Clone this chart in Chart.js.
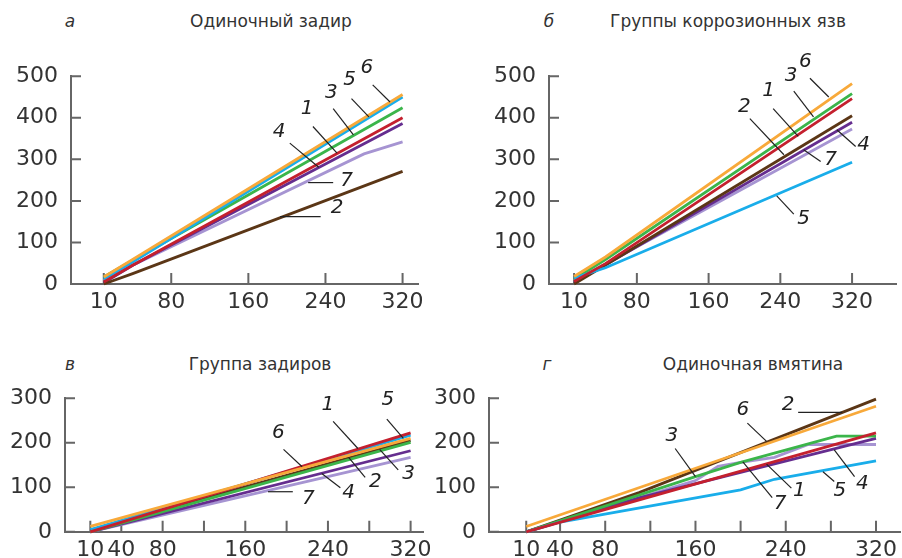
<!DOCTYPE html>
<html>
<head>
<meta charset="utf-8">
<script src="https://cdn.jsdelivr.net/npm/chart.js@4.4.1/dist/chart.umd.min.js"></script>
<style>
    body { margin: 0; background: #fff; width: 902px; height: 558px; position: relative; overflow: hidden;
           font-family: "DejaVu Sans", sans-serif; color: #333; }
    canvas { position: absolute; }
    .t { position: absolute; font-size: 17px; white-space: nowrap; transform: translate(-50%, -50%); }
    .l { font-style: italic; }
</style>
</head>
<body>
<div class="t l" style="left:70px;top:21px">а</div>
<div class="t" style="left:271px;top:21px">Одиночный задир</div>
<div class="t l" style="left:549px;top:21px">б</div>
<div class="t" style="left:728px;top:21px">Группы коррозионных язв</div>
<div class="t l" style="left:70px;top:364px">в</div>
<div class="t" style="left:260px;top:364px">Группа задиров</div>
<div class="t l" style="left:547px;top:364px">г</div>
<div class="t" style="left:753px;top:364px">Одиночная вмятина</div>

<script>
// цвета кривых 1..7
const colors = ['#c4202e', '#5b3616', '#3bb54a', '#652d8f', '#19adea', '#f8a93a', '#a694d2']
const axisColor = '#666'

// а — Одиночный задир
const xA = [10, 40, 280, 320]
const a1 = [5, 45, null, 400]
const a2 = [0, 25, null, 271]
const a3 = [17, 57, null, 424]
const a4 = [3, 45, null, 386]
const a5 = [12, 53, null, 450]
const a6 = [17, 59, null, 456]
const a7 = [8, 45, 313, 342]

// б — Группы коррозионных язв
const xB = [10, 45, 320]
const b1 = [6, 49, 446]
const b2 = [0, null, 405]
const b3 = [12, 59, 458]
const b4 = [3, 46, 389]
const b5 = [14, 39, 293]
const b6 = [18, 65, 482]
const b7 = [8, 48, 373]

// в — Группа задиров
const xC = [10, 320]
const c1 = [0, 222]
const c2 = [3, 205]
const c3 = [0, 201]
const c4 = [0, 182]
const c5 = [5, 217]
const c6 = [12, 210]
const c7 = [0, 167]

// г — Одиночная вмятина
const xD = [10, 40, 110, 160, 180, 200, 230, 260, 285, 320]
const d1 = [0, null, null, null, null, null, null, null, null, 222]
const d2 = [0, null, 88, null, null, null, null, null, null, 298]
const d3 = [0, null, null, 124, null, 156, null, null, 215, 215]
const d4 = [0, null, 76, null, null, null, null, null, null, 210]
const d5 = [0, 22, null, null, null, 94, 118, null, null, 159]
const d6 = [12, null, null, null, null, null, null, null, null, 282]
const d7 = [0, null, null, 115, 147, 156, 167, 196, null, 196]

const ticksAB = [10, 80, 160, 240, 320]
const ticksCD = [10, 40, 80, 120, 160, 200, 240, 280, 320]
const labelsCD = [10, 40, 80, 160, 240, 320]

// номера кривых: текст, позиция подписи и выноска (в единицах осей)
const notesA = [
    ['6', 283, 521, 289, 479, 307, 438],
    ['5', 265, 491, 267, 446, 285, 402],
    ['3', 246, 460, 248, 422, 269, 359],
    ['1', 221, 422, 227, 379, 252, 315],
    ['4', 192, 367, 203, 339, 233, 281],
    ['7', 262, 248, 248, 244, 222, 244],
    ['2', 252, 184, 235, 162, 193, 162]
]
const notesB = [
    ['6', 268, 535, 273, 495, 294, 450],
    ['3', 252, 500, 255, 464, 277, 402],
    ['1', 227, 466, 232, 422, 260, 355],
    ['2', 200, 426, 206, 398, 244, 311],
    ['4', 333, 335, 324, 331, 303, 371],
    ['7', 296, 299, 285, 295, 266, 323],
    ['5', 266, 156, 255, 168, 236, 212]
]
const notesC = [
    ['1', 240, 286, 245, 248, 269, 187],
    ['5', 298, 296, 297, 253, 313, 210],
    ['6', 192, 222, 197, 185, 215, 146],
    ['2', 286, 113, 276, 122, 260, 167],
    ['3', 318, 131, 308, 139, 290, 185],
    ['4', 260, 88, 252, 99, 234, 131],
    ['7', 221, 74, 206, 90, 182, 90]
]
const notesD = [
    ['2', 242, 286, 251, 268, 290, 268],
    ['6', 202, 275, 206, 244, 223, 203],
    ['3', 139, 215, 142, 187, 160, 124],
    ['1', 252, 92, 245, 98, 223, 152],
    ['7', 235, 64, 228, 77, 202, 157],
    ['5', 288, 92, 283, 113, 273, 135],
    ['4', 308, 107, 301, 124, 283, 184]
]

const marks = {
    id: 'marks',
    beforeDatasetsDraw(chart) {
        const {ctx, chartArea, scales: {x, y}} = chart
        ctx.save()
        ctx.strokeStyle = axisColor
        ctx.lineWidth = 2
        ctx.beginPath()
        x.ticks.forEach(t => {
            const px = x.getPixelForValue(t.value)
            ctx.moveTo(px, chartArea.bottom)
            ctx.lineTo(px, chartArea.bottom - 11)
        })
        y.ticks.forEach(t => {
            const py = y.getPixelForValue(t.value)
            ctx.moveTo(chartArea.left, py)
            ctx.lineTo(chartArea.left + 10, py)
        })
        ctx.stroke()
        ctx.restore()
    },
    afterDatasetsDraw(chart, args, opts) {
        const {ctx, scales: {x, y}} = chart
        ctx.save()
        ctx.strokeStyle = '#222'
        ctx.fillStyle = '#222'
        ctx.lineWidth = 1.2
        ctx.font = 'italic 20px "DejaVu Sans"'
        ctx.textAlign = 'center'
        ctx.textBaseline = 'middle'
        opts.notes.forEach(n => {
            ctx.beginPath()
            ctx.moveTo(x.getPixelForValue(n[3]), y.getPixelForValue(n[4]))
            ctx.lineTo(x.getPixelForValue(n[5]), y.getPixelForValue(n[6]))
            ctx.stroke()
            ctx.fillText(n[0], x.getPixelForValue(n[1]), y.getPixelForValue(n[2]))
        })
        ctx.restore()
    }
}

function makePanel(box, xs, series, xr, ymax, xticks, labelled, notes) {
    const canvas = document.createElement('canvas')
    canvas.width = box.w
    canvas.height = box.h
    canvas.style.left = box.left + 'px'
    canvas.style.top = box.top + 'px'
    document.body.appendChild(canvas)
    // порядок: первый набор рисуется сверху
    const order = [5, 0, 4, 2, 1, 3, 6]
    const datasets = order.map(k => ({
        data: xs.map((x, i) => ({x: x, y: series[k][i]})).filter(p => p.y !== null),
        borderColor: colors[k],
        borderWidth: 2.8,
        pointRadius: 0,
        tension: 0,
        fill: false,
        clip: false
    }))
    return new Chart(canvas, {
        type: 'line',
        data: {datasets: datasets},
        plugins: [marks],
        options: {
            responsive: false,
            animation: false,
            events: [],
            layout: {padding: {top: box.pt, right: box.pr, left: 0, bottom: 0}},
            plugins: {legend: {display: false}, tooltip: {enabled: false}, marks: {notes: notes}},
            scales: {
                x: {
                    type: 'linear', min: xr[0], max: xr[1],
                    grid: {display: false, drawTicks: false},
                    border: {display: true, color: axisColor, width: 2},
                    afterBuildTicks: s => { s.ticks = xticks.map(v => ({value: v})) },
                    afterFit: s => { s.height = box.xh },
                    ticks: {
                        autoSkip: false, maxRotation: 0, padding: 5, color: '#333',
                        font: {family: 'DejaVu Sans', size: 22},
                        callback: v => labelled.includes(v) ? String(v) : ''
                    }
                },
                y: {
                    type: 'linear', min: 0, max: ymax,
                    grid: {display: false, drawTicks: false},
                    border: {display: true, color: axisColor, width: 2},
                    afterFit: s => { s.width = box.yw },
                    ticks: {stepSize: 100, padding: 13, color: '#333', font: {family: 'DejaVu Sans', size: 22}}
                }
            }
        }
    })
}

makePanel({left: 0, top: 50, w: 445, h: 270, pt: 24, pr: 27, yw: 71, xh: 36},
    xA, [a1, a2, a3, a4, a5, a6, a7], [-24, 336], 500, ticksAB, ticksAB, notesA)
makePanel({left: 460, top: 50, w: 442, h: 270, pt: 24, pr: 6, yw: 89, xh: 36},
    xB, [b1, b2, b3, b4, b5, b6, b7], [-18, 369], 500, ticksAB, ticksAB, notesB)
makePanel({left: 0, top: 372, w: 450, h: 186, pt: 21, pr: 27, yw: 65, xh: 25},
    xC, [c1, c2, c3, c4, c5, c6, c7], [-14.5, 332], 300, ticksCD, labelsCD, notesC)
makePanel({left: 425, top: 372, w: 477, h: 186, pt: 21, pr: 0, yw: 64, xh: 25},
    xD, [d1, d2, d3, d4, d5, d6, d7], [-23, 342], 300, ticksCD, labelsCD, notesD)
</script>
</body>
</html>
